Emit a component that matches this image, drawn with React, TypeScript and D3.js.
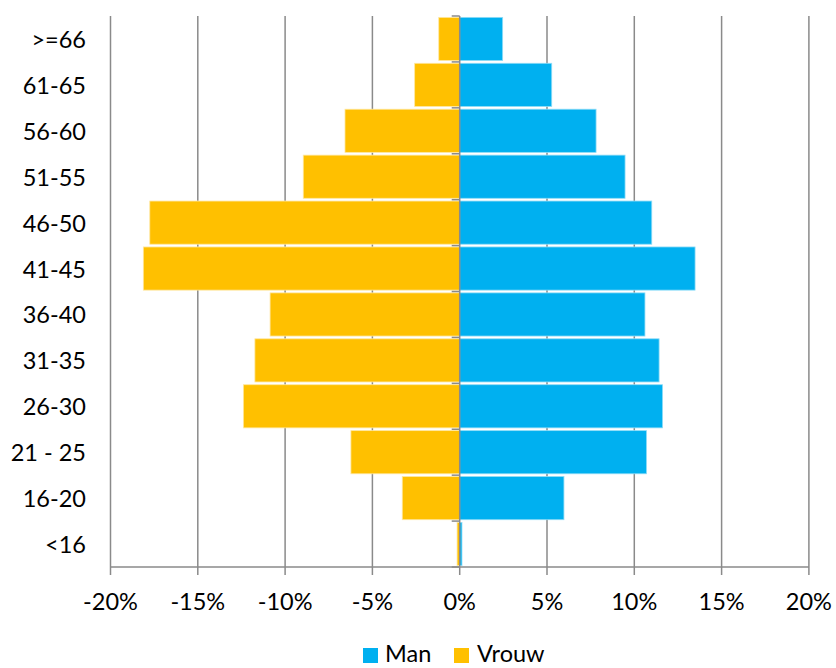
import React from "react";
import * as d3 from "d3";

const categories = [">=66", "61-65", "56-60", "51-55", "46-50", "41-45", "36-40", "31-35", "26-30", "21 - 25", "16-20", "<16"];
const manValues = [2.46, 5.27, 7.81, 9.47, 11.0, 13.48, 10.61, 11.42, 11.62, 10.7, 5.97, 0.13];
const vrouwValues = [-1.2, -2.58, -6.57, -8.96, -17.75, -18.12, -10.86, -11.73, -12.39, -6.23, -3.29, -0.15];
const xTicks = [-20, -15, -10, -5, 0, 5, 10, 15, 20];
const seriesNames = ["Man", "Vrouw"];

const W = 836;
const H = 668;
const BLUE = "#00B0F0";
const YELLOW = "#FFC000";
const GRID = "#8a8a8a";
const FONT = "Lato, 'Open Sans', sans-serif";
const FS = 23.5;

export default function App() {
  const x = d3.scaleLinear().domain([-20, 20]).range([110.5, 808.9]);
  const y = d3.scaleBand<string>().domain(categories).range([16, 567]).paddingInner(0.06).paddingOuter(0.03);
  const top = 16;
  const bottom = 567;
  const step = (bottom - top) / categories.length;
  const x0 = x(0);

  return (
    <svg width={W} height={H} style={{ position: "absolute", left: 0, top: 0, background: "#fff" }}>
      {xTicks.filter((t) => t !== 0).map((t) => (
        <line key={"g" + t} x1={x(t)} x2={x(t)} y1={top} y2={bottom} stroke={GRID} strokeWidth={1.5} />
      ))}
      {categories.map((c, i) => (
        <g key={c}>
          <rect
            x={x(Math.min(0, vrouwValues[i]))}
            y={y(c)!}
            width={Math.abs(x(vrouwValues[i]) - x0)}
            height={y.bandwidth()}
            fill={YELLOW}
            stroke="#ffe7a0"
            strokeWidth={0.8}
          />
          <rect
            x={x0}
            y={y(c)!}
            width={Math.abs(x(manValues[i]) - x0)}
            height={y.bandwidth()}
            fill={BLUE}
            stroke="#8fdcf7"
            strokeWidth={0.8}
          />
        </g>
      ))}
      <line x1={x0} x2={x0} y1={top} y2={bottom} stroke={GRID} strokeWidth={1.5} />
      {d3.range(categories.length + 1).map((k) => (
        <line key={"yt" + k} x1={x0 - 8} x2={x0} y1={top + k * step} y2={top + k * step} stroke={GRID} strokeWidth={1.5} />
      ))}
      <line x1={x(-20)} x2={x(20)} y1={bottom} y2={bottom} stroke={GRID} strokeWidth={1.5} />
      {xTicks.map((t) => (
        <g key={"xt" + t}>
          <line x1={x(t)} x2={x(t)} y1={bottom} y2={bottom + 8} stroke={GRID} strokeWidth={1.5} />
          <text x={x(t)} y={601} textAnchor="middle" dominantBaseline="central" fontFamily={FONT} fontSize={FS} fill="#000">
            {t + "%"}
          </text>
        </g>
      ))}
      {categories.map((c) => (
        <text key={"yl" + c} x={86} y={y(c)! + y.bandwidth() / 2} textAnchor="end" dominantBaseline="central" fontFamily={FONT} fontSize={FS} fill="#000">
          {c}
        </text>
      ))}
      <rect x={363} y={648} width={15} height={15} fill={BLUE} />
      <text x={385} y={662} fontFamily={FONT} fontSize={FS} fill="#000">{seriesNames[0]}</text>
      <rect x={454} y={648} width={15} height={15} fill={YELLOW} />
      <text x={477} y={662} fontFamily={FONT} fontSize={FS} fill="#000">{seriesNames[1]}</text>
    </svg>
  );
}
